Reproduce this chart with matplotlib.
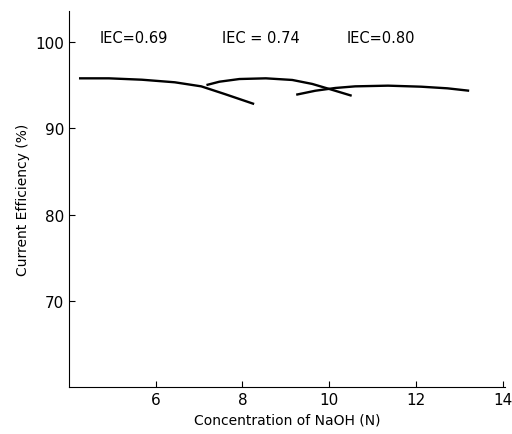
import matplotlib
matplotlib.use("Agg")
import matplotlib.pyplot as plt

x_069 = [4.23, 4.92, 5.68, 6.44, 7.05, 7.59, 8.27]
y_069 = [95.81, 95.81, 95.65, 95.35, 94.88, 93.99, 92.83]
x_074 = [7.17, 7.47, 7.93, 8.54, 9.15, 9.61, 10.06, 10.52]
y_074 = [95.03, 95.42, 95.73, 95.81, 95.62, 95.16, 94.49, 93.79]
x_080 = [9.24, 9.68, 10.14, 10.60, 11.36, 12.12, 12.73, 13.23]
y_080 = [93.91, 94.37, 94.69, 94.88, 94.96, 94.84, 94.65, 94.37]

labels = ["IEC=0.69", "IEC = 0.74", "IEC=0.80"]
label_x = [5.5, 8.43, 11.2]
label_y = [100.5, 100.5, 100.5]

xticks = [6, 8, 10, 12, 14]
yticks = [70, 80, 90, 100]

fig = plt.figure(figsize=(5.12, 4.35), dpi=100)
ax = fig.add_axes([0.1348, 0.108, 0.851, 0.864])
for xs, ys in [(x_069, y_069), (x_074, y_074), (x_080, y_080)]:
    ax.plot(xs, ys, color="black", lw=1.7, solid_capstyle="butt",
            solid_joinstyle="round")
for t, lx, ly in zip(labels, label_x, label_y):
    ax.text(lx, ly, t, ha="center", va="center", fontsize=10.5)

ax.set_xlim(4.0, 14.05)
ax.set_ylim(60, 103.6)
ax.set_xticks(xticks)
ax.set_yticks(yticks)
ax.tick_params(direction="in", length=4, labelsize=11)
ax.spines["top"].set_visible(False)
ax.spines["right"].set_visible(False)
ax.set_xlabel("Concentration of NaOH (N)", fontsize=10)
ax.set_ylabel("Current Efficiency (%)", fontsize=10)
fig.savefig("out.png", dpi=100)
